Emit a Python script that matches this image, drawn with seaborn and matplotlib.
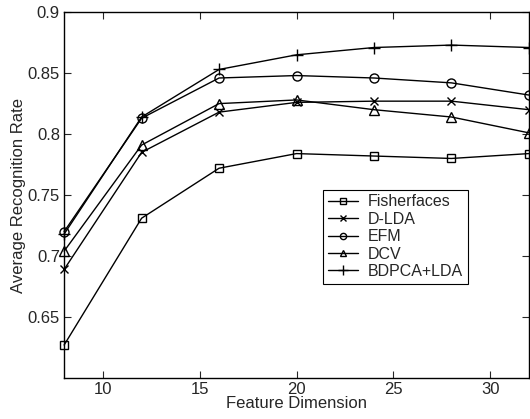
import pandas as pd
import matplotlib
matplotlib.use("Agg")
import matplotlib.pyplot as plt
import seaborn as sns

dims = [8, 12, 16, 20, 24, 28, 32]
methods = ["Fisherfaces", "D-LDA", "EFM", "DCV", "BDPCA+LDA"]
fisherfaces = [0.627, 0.731, 0.772, 0.784, 0.782, 0.780, 0.784]
dlda = [0.689, 0.785, 0.818, 0.826, 0.827, 0.827, 0.820]
efm = [0.720, 0.813, 0.846, 0.848, 0.846, 0.842, 0.832]
dcv = [0.704, 0.791, 0.825, 0.828, 0.820, 0.814, 0.801]
bdpca = [0.718, 0.814, 0.853, 0.865, 0.871, 0.873, 0.871]

rows = []
for name, vals in zip(methods, [fisherfaces, dlda, efm, dcv, bdpca]):
    for d, v in zip(dims, vals):
        rows.append({"dim": d, "rate": v, "method": name})
df = pd.DataFrame(rows)

sns.set_style("ticks")
plt.rcParams['font.family'] = ['Liberation Sans', 'DejaVu Sans']
plt.rcParams['xtick.direction'] = 'in'
plt.rcParams['ytick.direction'] = 'in'

fig = plt.figure(figsize=(5.30, 4.19), dpi=100)
ax = fig.add_axes([0.121, 0.098, 0.877, 0.873])

marks = {"Fisherfaces": "s", "D-LDA": "x", "EFM": "o", "DCV": "^", "BDPCA+LDA": "+"}
msize = {"Fisherfaces": 5.5, "D-LDA": 5.5, "EFM": 6.5, "DCV": 6.5, "BDPCA+LDA": 8}
for name in methods:
    sub = df[df["method"] == name]
    sns.lineplot(data=sub, x="dim", y="rate", color="black", lw=1,
                 marker=marks[name], markersize=msize[name],
                 markerfacecolor="none", markeredgecolor="black",
                 markeredgewidth=1, label=name, legend=False, ax=ax)

for line in ax.lines:
    line.set_clip_on(False)

ax.set_xlim(8, 32)
ax.set_ylim(0.6, 0.9)
ax.set_xticks([10, 15, 20, 25, 30])
ax.set_yticks([0.65, 0.7, 0.75, 0.8, 0.85, 0.9])
ax.set_yticklabels(["0.65", "0.7", "0.75", "0.8", "0.85", "0.9"])
ax.tick_params(top=True, right=True, length=5, width=0.8, labelsize=12, pad=3)
for s in ax.spines.values():
    s.set_linewidth(1)
    s.set_color("black")

ax.set_xlabel("Feature Dimension", fontsize=12, labelpad=-1)
ax.set_ylabel("Average Recognition Rate", fontsize=12, labelpad=1)

leg = ax.legend(loc="upper left", bbox_to_anchor=(0.557, 0.515), fontsize=11.5,
                frameon=True, fancybox=False, edgecolor="black", framealpha=1,
                borderaxespad=0, handlelength=1.9, labelspacing=0.15,
                handletextpad=0.6, borderpad=0.3)
leg.get_frame().set_linewidth(0.8)
for h in leg.legend_handles:
    h.set_markersize(4.5 if h.get_marker() != "+" else 7)

fig.savefig("out.png", dpi=100)
